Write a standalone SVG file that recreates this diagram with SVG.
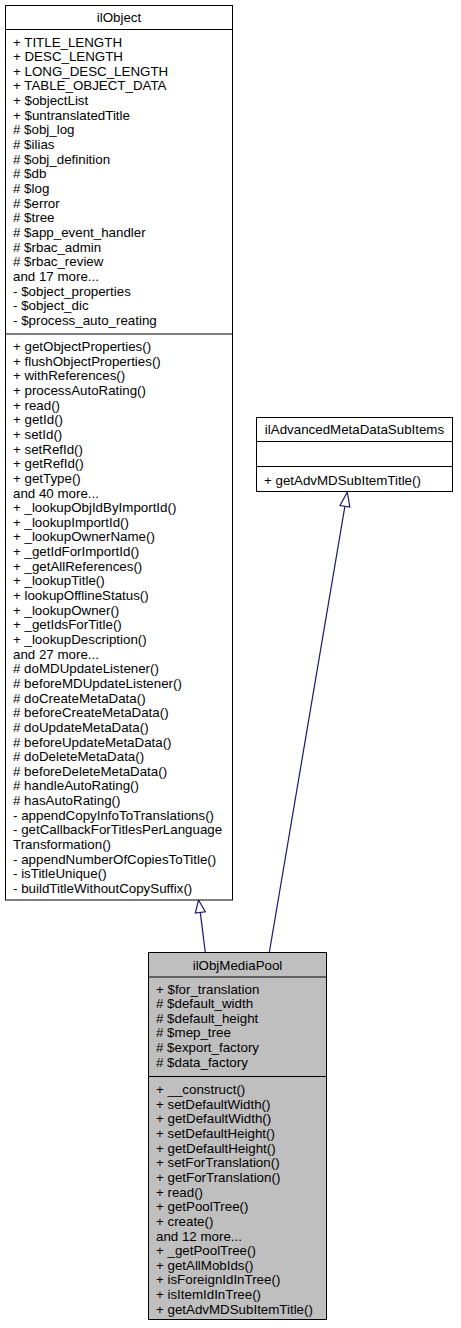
<svg xmlns="http://www.w3.org/2000/svg" width="461" height="1328" viewBox="0 0 461 1328">
<style>
.box{fill:#ffffff;stroke:#000000;stroke-width:1}
.gbox{fill:#bfbfbf;stroke:#000000;stroke-width:1}
.sep{stroke:#000000;stroke-width:1;fill:none}
text{font-family:"Liberation Sans",Arial,Helvetica,sans-serif;font-size:13.33px;fill:#000000}
.t{text-anchor:middle}
.edge{stroke:#191970;stroke-width:1.2;fill:none}
.head{stroke:#191970;stroke-width:1.2;fill:#ffffff}
</style>
<rect width="461" height="1328" fill="#ffffff"/>
<g id="edges">
<path class="edge" d="M205.3,952.5 L200.3,912.4"/>
<polygon class="head" points="198.5,900 205.3,911.8 195.3,913"/>
<path class="edge" d="M269.3,952.5 L344.9,506.3"/>
<polygon class="head" points="347.3,492 349.8,507.1 340,505.5"/>
</g>
<g id="ilObject">
<rect class="box" x="5.5" y="5.5" width="227" height="894.5"/>
<path class="sep" d="M5.5,29.5 H232.5 M5.5,334 H232.5"/>
<text class="t" x="119" y="21.75">ilObject</text>
<text x="13" y="46.5">+ TITLE_LENGTH<tspan x="13" dy="14.65">+ DESC_LENGTH</tspan><tspan x="13" dy="14.65">+ LONG_DESC_LENGTH</tspan><tspan x="13" dy="14.65">+ TABLE_OBJECT_DATA</tspan><tspan x="13" dy="14.65">+ $objectList</tspan><tspan x="13" dy="14.65">+ $untranslatedTitle</tspan><tspan x="13" dy="14.65"># $obj_log</tspan><tspan x="13" dy="14.65"># $ilias</tspan><tspan x="13" dy="14.65"># $obj_definition</tspan><tspan x="13" dy="14.65"># $db</tspan><tspan x="13" dy="14.65"># $log</tspan><tspan x="13" dy="14.65"># $error</tspan><tspan x="13" dy="14.65"># $tree</tspan><tspan x="13" dy="14.65"># $app_event_handler</tspan><tspan x="13" dy="14.65"># $rbac_admin</tspan><tspan x="13" dy="14.65"># $rbac_review</tspan><tspan x="13" dy="14.65">and 17 more...</tspan><tspan x="13" dy="14.65">- $object_properties</tspan><tspan x="13" dy="14.65">- $object_dic</tspan><tspan x="13" dy="14.65">- $process_auto_reating</tspan></text>
<text x="13" y="351">+ getObjectProperties()<tspan x="13" dy="14.65">+ flushObjectProperties()</tspan><tspan x="13" dy="14.65">+ withReferences()</tspan><tspan x="13" dy="14.65">+ processAutoRating()</tspan><tspan x="13" dy="14.65">+ read()</tspan><tspan x="13" dy="14.65">+ getId()</tspan><tspan x="13" dy="14.65">+ setId()</tspan><tspan x="13" dy="14.65">+ setRefId()</tspan><tspan x="13" dy="14.65">+ getRefId()</tspan><tspan x="13" dy="14.65">+ getType()</tspan><tspan x="13" dy="14.65">and 40 more...</tspan><tspan x="13" dy="14.65">+ _lookupObjIdByImportId()</tspan><tspan x="13" dy="14.65">+ _lookupImportId()</tspan><tspan x="13" dy="14.65">+ _lookupOwnerName()</tspan><tspan x="13" dy="14.65">+ _getIdForImportId()</tspan><tspan x="13" dy="14.65">+ _getAllReferences()</tspan><tspan x="13" dy="14.65">+ _lookupTitle()</tspan><tspan x="13" dy="14.65">+ lookupOfflineStatus()</tspan><tspan x="13" dy="14.65">+ _lookupOwner()</tspan><tspan x="13" dy="14.65">+ _getIdsForTitle()</tspan><tspan x="13" dy="14.65">+ _lookupDescription()</tspan><tspan x="13" dy="14.65">and 27 more...</tspan><tspan x="13" dy="14.65"># doMDUpdateListener()</tspan><tspan x="13" dy="14.65"># beforeMDUpdateListener()</tspan><tspan x="13" dy="14.65"># doCreateMetaData()</tspan><tspan x="13" dy="14.65"># beforeCreateMetaData()</tspan><tspan x="13" dy="14.65"># doUpdateMetaData()</tspan><tspan x="13" dy="14.65"># beforeUpdateMetaData()</tspan><tspan x="13" dy="14.65"># doDeleteMetaData()</tspan><tspan x="13" dy="14.65"># beforeDeleteMetaData()</tspan><tspan x="13" dy="14.65"># handleAutoRating()</tspan><tspan x="13" dy="14.65"># hasAutoRating()</tspan><tspan x="13" dy="14.65">- appendCopyInfoToTranslations()</tspan><tspan x="13" dy="14.65">- getCallbackForTitlesPerLanguage</tspan><tspan x="13" dy="14.65">Transformation()</tspan><tspan x="13" dy="14.65">- appendNumberOfCopiesToTitle()</tspan><tspan x="13" dy="14.65">- isTitleUnique()</tspan><tspan x="13" dy="14.65">- buildTitleWithoutCopySuffix()</tspan></text>
</g>
<g id="ilAdvancedMetaDataSubItems">
<rect class="box" x="256.5" y="417.5" width="196" height="74"/>
<path class="sep" d="M256.5,441.5 H452.5 M256.5,466.5 H452.5"/>
<text class="t" x="354.5" y="434">ilAdvancedMetaDataSubItems</text>
<text x="264" y="484.5">+ getAdvMDSubItemTitle()</text>
</g>
<g id="ilObjMediaPool">
<rect class="gbox" x="148.5" y="952.5" width="178" height="367"/>
<path class="sep" d="M148.5,977 H326.5 M148.5,1076.5 H326.5"/>
<text class="t" x="237.5" y="969.5">ilObjMediaPool</text>
<text x="156" y="993.5">+ $for_translation<tspan x="156" dy="14.65"># $default_width</tspan><tspan x="156" dy="14.65"># $default_height</tspan><tspan x="156" dy="14.65"># $mep_tree</tspan><tspan x="156" dy="14.65"># $export_factory</tspan><tspan x="156" dy="14.65"># $data_factory</tspan></text>
<text x="156" y="1094">+ __construct()<tspan x="156" dy="14.65">+ setDefaultWidth()</tspan><tspan x="156" dy="14.65">+ getDefaultWidth()</tspan><tspan x="156" dy="14.65">+ setDefaultHeight()</tspan><tspan x="156" dy="14.65">+ getDefaultHeight()</tspan><tspan x="156" dy="14.65">+ setForTranslation()</tspan><tspan x="156" dy="14.65">+ getForTranslation()</tspan><tspan x="156" dy="14.65">+ read()</tspan><tspan x="156" dy="14.65">+ getPoolTree()</tspan><tspan x="156" dy="14.65">+ create()</tspan><tspan x="156" dy="14.65">and 12 more...</tspan><tspan x="156" dy="14.65">+ _getPoolTree()</tspan><tspan x="156" dy="14.65">+ getAllMobIds()</tspan><tspan x="156" dy="14.65">+ isForeignIdInTree()</tspan><tspan x="156" dy="14.65">+ isItemIdInTree()</tspan><tspan x="156" dy="14.65">+ getAdvMDSubItemTitle()</tspan></text>
</g>
</svg>
